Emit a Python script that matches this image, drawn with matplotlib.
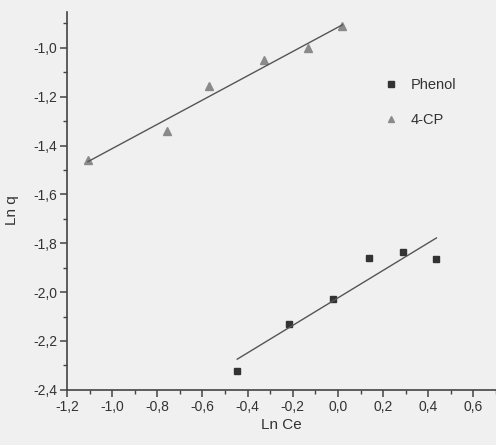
import matplotlib
matplotlib.use("Agg")
import matplotlib.pyplot as plt
import numpy as np
from matplotlib.ticker import FuncFormatter, MultipleLocator

font = {'size': 10, 'family': ['Liberation Sans', 'DejaVu Sans']}
matplotlib.rc('font', **font)

# Phenol (squares)
phenol_x = [-0.446, -0.215, -0.020, 0.139, 0.286, 0.436]
phenol_y = [-2.322, -2.130, -2.028, -1.860, -1.836, -1.864]

# 4-CP (triangles)
cp_x = [-1.107, -0.757, -0.570, -0.326, -0.131, 0.020]
cp_y = [-1.459, -1.341, -1.157, -1.050, -1.001, -0.911]

x_ticks = [-1.2, -1.0, -0.8, -0.6, -0.4, -0.2, 0.0, 0.2, 0.4, 0.6]
y_ticks = [-2.4, -2.2, -2.0, -1.8, -1.6, -1.4, -1.2, -1.0]

bg = "#f0f0f0"
fig = plt.figure(figsize=(4.96, 4.45), dpi=100, facecolor=bg)
ax = fig.add_axes([0.135, 0.124, 0.865, 0.849], facecolor=bg)

ax.plot(phenol_x, phenol_y, linestyle="none", marker="s", markersize=5,
        color="#333333", label="Phenol")
ax.plot(cp_x, cp_y, linestyle="none", marker="^", markersize=5.5,
        color="#8a8a8a", label="4-CP")

# linear fits
for xs, ys in [(phenol_x, phenol_y), (cp_x, cp_y)]:
    k, b = np.polyfit(xs, ys, 1)
    xx = np.array([min(xs), max(xs)])
    ax.plot(xx, k * xx + b, color="#555555", linewidth=1.0)

ax.set_xlim(-1.2, 0.7)
ax.set_ylim(-2.4, -0.853)
ax.set_xticks(x_ticks)
ax.set_yticks(y_ticks)
ax.xaxis.set_minor_locator(MultipleLocator(0.1))
ax.yaxis.set_minor_locator(MultipleLocator(0.1))
comma = FuncFormatter(lambda v, p: ("%.1f" % v).replace(".", ","))
ax.xaxis.set_major_formatter(comma)
ax.yaxis.set_major_formatter(comma)

for s in ["top", "right"]:
    ax.spines[s].set_visible(False)
for s in ["left", "bottom"]:
    ax.spines[s].set_color("#444444")
    ax.spines[s].set_linewidth(1.2)
ax.tick_params(which="major", direction="out", length=5, width=1.1, color="#444444",
               labelcolor="#333333", pad=2)
ax.tick_params(which="minor", direction="out", length=3, width=1.0, color="#444444")

ax.set_xlabel("Ln Ce", color="#333333", labelpad=3, fontsize=11)
ax.set_ylabel("Ln q", color="#333333", fontsize=11)
ax.yaxis.set_label_coords(-0.112, 0.476)

ax.legend(loc="upper left", bbox_to_anchor=(0.705, 0.86), frameon=False,
          handletextpad=0.7, labelspacing=1.45, handlelength=1.2,
          markerscale=0.85, fontsize=10.5, labelcolor="#333333")

plt.savefig("out.png", dpi=100, facecolor=bg)
